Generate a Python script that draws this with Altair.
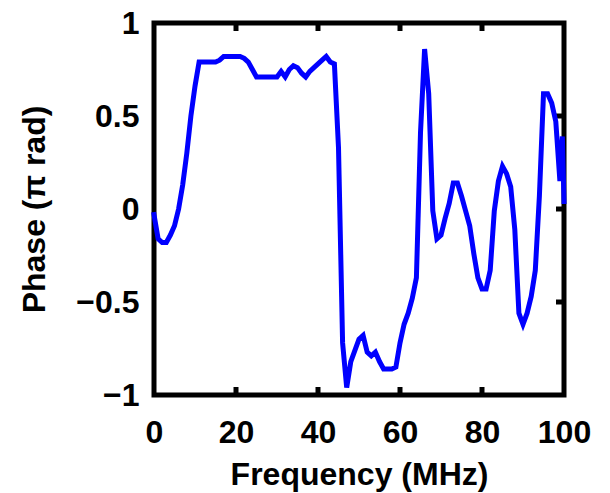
import altair as alt
import pandas as pd

freq = [0, 1, 2, 3, 4, 5, 6, 7, 8, 9, 10, 11, 12, 13, 14, 15, 16, 17, 18, 19,
        20, 21, 22, 23, 24, 25, 26, 27, 28, 29, 30, 31, 32, 33, 34, 35, 36, 37, 38, 39,
        40, 41, 42, 43, 44, 45, 46, 47, 48, 49, 50, 51, 52, 53, 54, 55, 56, 57, 58, 59,
        60, 61, 62, 63, 64, 65, 66, 67, 68, 69, 70, 71, 72, 73, 74, 75, 76, 77, 78, 79,
        80, 81, 82, 83, 84, 85, 86, 87, 88, 89, 90, 91, 92, 93, 94, 95, 96, 97, 98, 99,
        99.6, 100]
phase = [-0.03, -0.16, -0.18, -0.18, -0.14, -0.09, 0.00, 0.13, 0.30, 0.50,
         0.66, 0.79, 0.79, 0.79, 0.79, 0.79, 0.80, 0.82, 0.82, 0.82,
         0.82, 0.82, 0.81, 0.79, 0.75, 0.71, 0.71, 0.71, 0.71, 0.71,
         0.71, 0.74, 0.71, 0.75, 0.77, 0.76, 0.73, 0.71, 0.74, 0.76,
         0.78, 0.80, 0.82, 0.79, 0.78, 0.33, -0.72, -0.96, -0.82, -0.76,
         -0.70, -0.68, -0.77, -0.79, -0.77, -0.82, -0.86, -0.86, -0.86, -0.85,
         -0.72, -0.62, -0.56, -0.48, -0.37, 0.41, 0.86, 0.62, -0.01, -0.16,
         -0.14, -0.05, 0.03, 0.14, 0.14, 0.07, -0.01, -0.09, -0.24, -0.37,
         -0.43, -0.43, -0.33, -0.01, 0.15, 0.23, 0.19, 0.12, -0.11, -0.56,
         -0.62, -0.56, -0.47, -0.33, 0.07, 0.62, 0.62, 0.57, 0.47, 0.15,
         0.39, 0.04]

x_ticks = [0, 20, 40, 60, 80, 100]
y_ticks = [-1, -0.5, 0, 0.5, 1]
x_inner_ticks = [20, 40, 60, 80]
y_inner_ticks = [-0.5, 0, 0.5]

W, H = 410, 372
FONT = "Liberation Sans"

df = pd.DataFrame({"f": freq, "p": phase})
xs = alt.Scale(domain=[0, 100], nice=False, zero=False)
ys = alt.Scale(domain=[-1, 1], nice=False, zero=False)

frame = alt.Chart(alt.Data(values=[{"a": 1}])).mark_rect(
    fill="white", stroke="black", strokeWidth=5
).encode(x=alt.value(0), x2=alt.value(W), y=alt.value(0), y2=alt.value(H))

line = alt.Chart(df).mark_line(color="#0000FF", strokeWidth=5, strokeJoin="miter",
                               strokeCap="square", interpolate="linear").encode(
    x=alt.X("f:Q", scale=xs,
            axis=alt.Axis(values=x_ticks, title="Frequency (MHz)", domain=False,
                          ticks=False, grid=False, labelPadding=22, titlePadding=11,
                          format="d", labelFlush=False)),
    y=alt.Y("p:Q", scale=ys,
            axis=alt.Axis(values=y_ticks, title="Phase (\u03c0 rad)", domain=False,
                          ticks=False, grid=False, labelPadding=15, titlePadding=24,
                          format="~g", labelFlush=False)),
)

xt = pd.DataFrame({"t": x_inner_ticks})
yt = pd.DataFrame({"t": y_inner_ticks})
top_ticks = alt.Chart(xt).mark_rule(color="black", strokeWidth=5).encode(
    x=alt.X("t:Q", scale=xs), y=alt.value(0), y2=alt.value(8))
bot_ticks = alt.Chart(xt).mark_rule(color="black", strokeWidth=5).encode(
    x=alt.X("t:Q", scale=xs), y=alt.value(H - 8), y2=alt.value(H))
right_ticks = alt.Chart(yt).mark_rule(color="black", strokeWidth=5).encode(
    y=alt.Y("t:Q", scale=ys), x=alt.value(W - 8), x2=alt.value(W))

chart = alt.layer(frame, top_ticks, bot_ticks, right_ticks, line).properties(
    width=W, height=H,
    autosize=alt.AutoSizeParams(type="none"),
    padding={"left": 154, "top": 23, "right": 46, "bottom": 98},
    background="white",
).configure_view(stroke=None).configure_axis(
    labelFont=FONT, titleFont=FONT, labelFontSize=32, titleFontSize=32,
    labelFontWeight="bold", titleFontWeight="bold",
    labelColor="black", titleColor="black",
)

chart.save("out.html", embed_options={"renderer": "svg", "actions": False})
